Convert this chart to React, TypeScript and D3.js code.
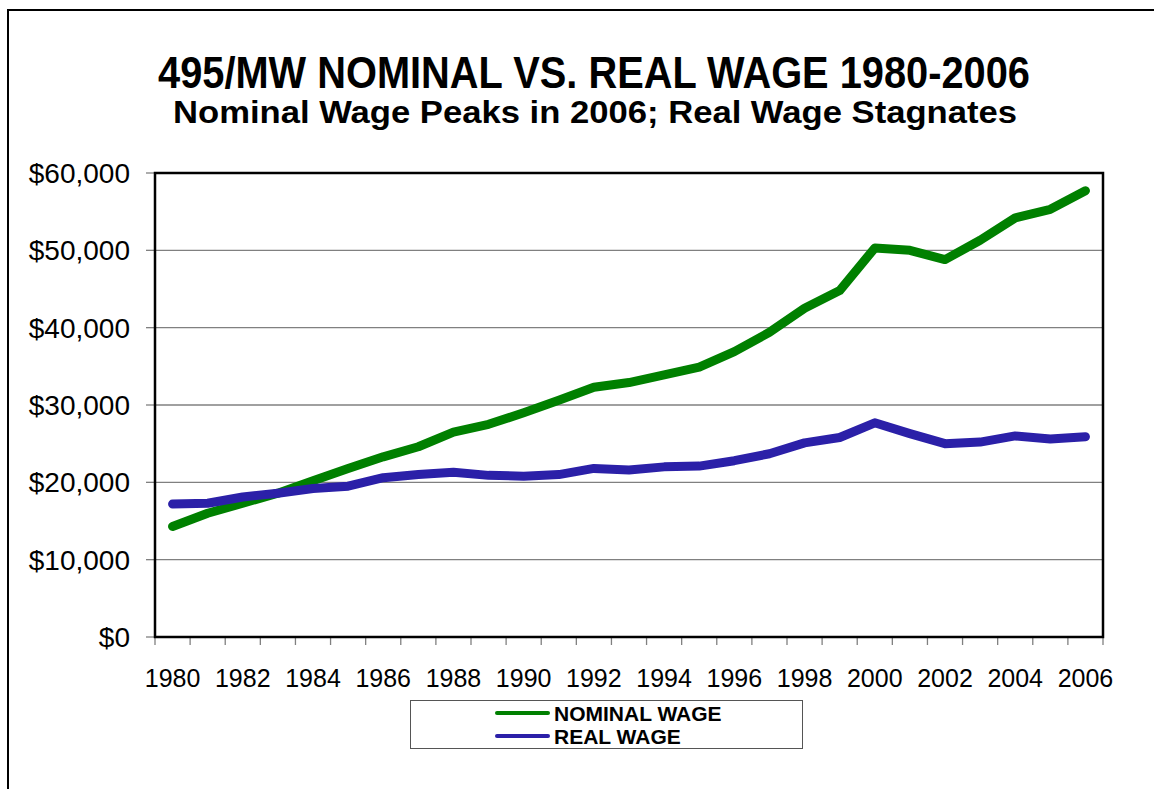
import React from "react";
import * as d3 from "d3";

// values
const years = d3.range(1980, 2007).map(String);
const nominalWage = [
  14300, 16000, 17300, 18600, 20200, 21800, 23300, 24600, 26500, 27500,
  29000, 30600, 32300, 32900, 33900, 34900, 36900, 39400, 42500, 44800,
  50300, 50000, 48800, 51300, 54200, 55300, 57700,
];
const realWage = [
  17200, 17300, 18100, 18600, 19200, 19500, 20600, 21000, 21300, 20900,
  20800, 21000, 21800, 21600, 22000, 22100, 22800, 23700, 25100, 25800,
  27700, 26300, 25000, 25200, 26000, 25600, 25900,
];
const yTickValues = [0, 10000, 20000, 30000, 40000, 50000, 60000];
const seriesNames = ["NOMINAL WAGE", "REAL WAGE"];
const seriesColors = ["#008000", "#2b20a8"];

const W = 1154, H = 789;
const left = 155, right = 1103, top = 173, bottom = 637;
const font = "'Liberation Sans', Arial, sans-serif";

export default function App() {
  const x = d3.scaleBand().domain(years).range([left, right]).padding(0);
  const y = d3.scaleLinear().domain([0, 60000]).range([bottom, top]);
  const fmt = d3.format("$,.0f");

  const line = d3
    .line<number>()
    .x((_, i) => (x(years[i]) as number) + x.bandwidth() / 2)
    .y((d) => y(d));

  const series = [nominalWage, realWage];
  const tickXs = years.map((yr) => x(yr) as number).concat([right]);

  return (
    <svg
      width={W}
      height={H}
      style={{ position: "absolute", left: 0, top: 0, background: "#fff" }}
      fontFamily={font}
    >
      {/* outer frame, runs off the right and bottom edge */}
      <rect x={8} y={10} width={W + 20} height={H + 20} fill="#fff" stroke="#000" strokeWidth={2} />

      <text x={594} y={88} textAnchor="middle" fontSize={44} fontWeight="bold" textLength={872} lengthAdjust="spacingAndGlyphs">
        495/MW NOMINAL VS. REAL WAGE 1980-2006
      </text>
      <text x={595} y={123} textAnchor="middle" fontSize={32} fontWeight="bold" textLength={844} lengthAdjust="spacingAndGlyphs">
        Nominal Wage Peaks in 2006; Real Wage Stagnates
      </text>

      {/* gridlines + y axis */}
      {yTickValues.map((v) => (
        <g key={v}>
          <line x1={left} x2={right} y1={y(v)} y2={y(v)} stroke="#808080" strokeWidth={1.3} />
          <line x1={146} x2={left} y1={y(v)} y2={y(v)} stroke="#808080" strokeWidth={1.3} />
          <text x={130} y={y(v)} dy="0.36em" textAnchor="end" fontSize={28}>
            {fmt(v)}
          </text>
        </g>
      ))}

      {/* x ticks and labels */}
      {tickXs.map((tx, i) => (
        <line key={i} x1={tx} x2={tx} y1={bottom} y2={bottom + 8} stroke="#808080" strokeWidth={1.3} />
      ))}
      {years.map((yr, i) =>
        i % 2 === 0 ? (
          <text key={yr} x={(x(yr) as number) + x.bandwidth() / 2} y={687} textAnchor="middle" fontSize={25}>
            {yr}
          </text>
        ) : null
      )}

      {/* plot border */}
      <rect x={left} y={top} width={right - left} height={bottom - top} fill="none" stroke="#000" strokeWidth={2.5} />

      {series.map((s, i) => (
        <path
          key={i}
          d={line(s) as string}
          fill="none"
          stroke={seriesColors[i]}
          strokeWidth={9}
          strokeLinecap="round"
          strokeLinejoin="round"
        />
      ))}

      {/* legend */}
      <rect x={410.5} y={700.5} width={392} height={48} fill="#fff" stroke="#555" strokeWidth={1} />
      {seriesNames.map((name, i) => (
        <g key={name}>
          <line x1={497} x2={548} y1={713 + i * 23} y2={713 + i * 23} stroke={seriesColors[i]} strokeWidth={4} strokeLinecap="round" />
          <text x={554} y={713 + i * 23} dy="0.36em" fontSize={21} fontWeight="bold">
            {name}
          </text>
        </g>
      ))}
    </svg>
  );
}
